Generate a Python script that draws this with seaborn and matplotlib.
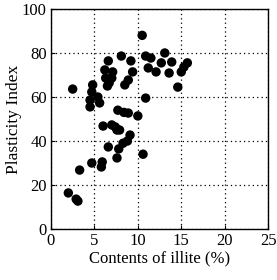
import matplotlib
matplotlib.use("Agg")
import matplotlib.pyplot as plt
import seaborn as sns
import pandas as pd

illite = [10.5, 8.1, 6.6, 9.2, 10.9, 11.5, 13.1, 12.7, 13.9, 11.2, 12.1, 13.6,
          15.7, 15.3, 15.0, 14.6, 10.9, 6.2, 7.1, 6.3, 7.0, 6.7, 6.5, 9.4, 8.9,
          8.5, 2.5, 4.8, 4.7, 4.5, 5.4, 5.6, 4.5, 7.7, 8.4, 8.9, 10.0, 6.0, 7.0,
          7.4, 7.6, 7.9, 9.1, 8.8, 8.3, 6.6, 7.8, 10.6, 7.6, 5.9, 4.7, 5.8, 3.3,
          2.0, 2.9, 3.1]
plasticity = [88, 78.6, 76.4, 76.4, 78.6, 77.7, 80, 75.5, 75.9, 73.2, 71.4, 70.9,
              75.5, 73.6, 71.4, 64.5, 59.5, 72.3, 71.4, 68.6, 68.6, 66.4, 65.0, 71.4, 67.7,
              65.5, 63.6, 65.5, 62.3, 58.6, 60, 57.3, 55.5, 54, 53, 52.7, 51.4, 46.8, 47.3,
              46.4, 45, 45, 42.7, 40, 39, 37.3, 36.4, 34, 32.3, 30.5, 30, 28.2, 26.8,
              16.4, 13.6, 12.7]
xticks = [0, 5, 10, 15, 20, 25]
yticks = [0, 20, 40, 60, 80, 100]

df = pd.DataFrame({"illite": illite, "pi": plasticity})

sns.set_style("white")
plt.rcParams["font.family"] = ["Liberation Serif", "DejaVu Serif"]

fig = plt.figure(figsize=(2.77, 2.80), dpi=100)
ax = fig.add_axes([0.184, 0.182, 0.784, 0.786])
sns.scatterplot(data=df, x="illite", y="pi", ax=ax, color="black", s=46,
                edgecolor="none", zorder=3)
ax.set_xlim(0, 25)
ax.set_ylim(0, 100)
ax.set_xticks(xticks)
ax.set_yticks(yticks)
ax.grid(True, linestyle=(0, (1, 2.5)), color="black", linewidth=0.9)
ax.tick_params(direction="in", length=3, width=0.8, labelsize=12, colors="black",
               left=True, bottom=True, pad=3)
for sp in ax.spines.values():
    sp.set_color("black")
    sp.set_linewidth(1.0)
ax.set_xlabel("Contents of illite (%)", fontsize=12, color="black", labelpad=1)
ax.set_ylabel("Plasticity Index", fontsize=12.5, color="black", labelpad=0)
fig.savefig("out.png", dpi=100)
